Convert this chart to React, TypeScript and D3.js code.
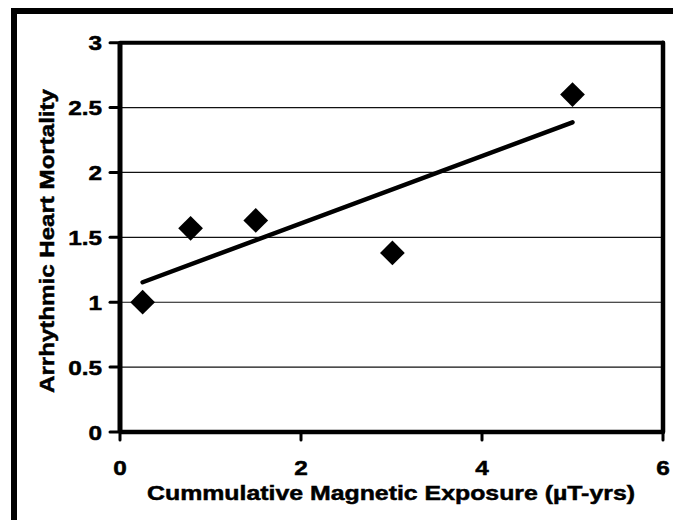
import React from "react";
import * as d3 from "d3";

const exposure = [0.25, 0.78, 1.5, 3.01, 5.0];
const mortality = [1.0, 1.57, 1.63, 1.38, 2.6];
const xTicks = [0, 2, 4, 6];
const yTicks = [0, 0.5, 1, 1.5, 2, 2.5, 3];
const yGrid = [0.5, 1, 1.5, 2, 2.5];
const xTitle = "Cummulative Magnetic Exposure (\u00b5T-yrs)";
const yTitle = "Arrhythmic Heart Mortality";

const W = 673;
const H = 520;
const FONT = "'Liberation Sans', Arial, Helvetica, sans-serif";

export default function App() {
  const x = d3.scaleLinear().domain([0, 6]).range([120, 663]);
  const y = d3.scaleLinear().domain([0, 3]).range([432, 42.7]);

  // least squares trendline
  const mx = d3.mean(exposure) as number;
  const my = d3.mean(mortality) as number;
  let sxy = 0, sxx = 0;
  exposure.forEach((v, i) => {
    sxy += (v - mx) * (mortality[i] - my);
    sxx += (v - mx) * (v - mx);
  });
  const slope = sxy / sxx;
  const icpt = my - slope * mx;
  const x0 = d3.min(exposure) as number;
  const x1 = d3.max(exposure) as number;
  const trend = d3.line<number>().x((d) => x(d)).y((d) => y(icpt + slope * d))([x0, x1]);

  const diamond = d3.symbol().type(d3.symbolSquare).size(17.5 * 17.5)();

  const sx = 1.16;
  const textProps = {
    fontFamily: FONT,
    fontWeight: "bold" as const,
    fontSize: 21,
    fill: "#000",
    stroke: "#000",
    strokeWidth: 0.5,
  };
  return (
    <div style={{ position: "absolute", left: 0, top: 0 }}>
      <svg width={W} height={H} style={{ display: "block", background: "#fff" }}>
        <rect x={14} y={11} width={700} height={560} fill="#fff" stroke="#000" strokeWidth={6} />
        {yGrid.map((t) => (
          <line key={t} x1={x(0)} x2={x(6)} y1={y(t)} y2={y(t)} stroke="#111" strokeWidth={1.2} />
        ))}
        {/* plot frame */}
        <line x1={x(0)} x2={x(6)} y1={y(3)} y2={y(3)} stroke="#000" strokeWidth={4} strokeLinecap="round" />
        <line x1={x(6)} x2={x(6)} y1={y(3)} y2={y(0)} stroke="#000" strokeWidth={4.5} strokeLinecap="round" />
        <line x1={x(0)} x2={x(0)} y1={y(3)} y2={y(0)} stroke="#000" strokeWidth={5} />
        <line x1={x(0)} x2={x(6)} y1={y(0)} y2={y(0)} stroke="#000" strokeWidth={4.5} />
        {yTicks.map((t) => (
          <g key={"y" + t}>
            <line x1={110} x2={x(0)} y1={y(t)} y2={y(t)} stroke="#000" strokeWidth={3} strokeLinecap="round" />
            <text transform={`translate(102,${y(t) + 7.5}) scale(${sx},1)`} textAnchor="end" {...textProps}>
              {String(t)}
            </text>
          </g>
        ))}
        {xTicks.map((t) => (
          <g key={"x" + t}>
            <line x1={x(t)} x2={x(t)} y1={y(0)} y2={440} stroke="#000" strokeWidth={3} strokeLinecap="round" />
            <text transform={`translate(${x(t)},475) scale(${sx},1)`} textAnchor="middle" {...textProps}>
              {String(t)}
            </text>
          </g>
        ))}
        <path d={trend || ""} stroke="#000" strokeWidth={4.5} fill="none" strokeLinecap="round" />
        {exposure.map((v, i) => (
          <path key={i} d={diamond || ""} transform={`translate(${x(v)},${y(mortality[i])}) rotate(45)`} fill="#000" />
        ))}
        <text x={391} y={500} textAnchor="middle" textLength={488} lengthAdjust="spacingAndGlyphs" {...textProps}>
          {xTitle}
        </text>
        <text
          transform={`translate(54,241) rotate(-90)`}
          textAnchor="middle"
          textLength={304}
          lengthAdjust="spacingAndGlyphs"
          {...textProps}
        >
          {yTitle}
        </text>
      </svg>
    </div>
  );
}
